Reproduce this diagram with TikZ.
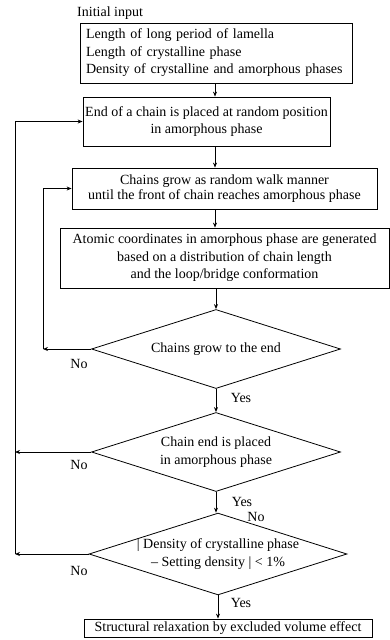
\documentclass[tikz,border=0pt]{standalone}
\usepackage{fontspec}
\setmainfont{Liberation Serif}
\usetikzlibrary{shapes.geometric,arrows.meta}
\begin{document}
\begin{tikzpicture}[x=1pt,y=-1pt,
 every node/.style={font=\fontsize{14}{17.5}\selectfont},
 box/.style={draw,line width=0.8pt,inner sep=0pt,align=center},
 dia/.style={draw,diamond,shape aspect=3.15,line width=0.8pt,inner sep=0pt,align=center,minimum width=249pt,minimum height=79pt},
 arr/.style={-{Stealth[length=5pt,width=4pt]},line width=0.8pt},
 lbl/.style={inner sep=0pt}]
\useasboundingbox (0,0) rectangle (390,640);
\node[lbl,anchor=west] (init) at (77,13) {Initial input};
\node[box,minimum width=272pt,minimum height=60pt,text width=260pt,align=left] (b1) at (216,53) {Length of long period of lamella\\Length of crystalline phase\\Density of crystalline and amorphous phases};
\node[box,minimum width=247pt,minimum height=49pt] (b2) at (206.5,121.5) {End of a chain is placed at random position\\in amorphous phase};
\node[box,minimum width=305pt,minimum height=41pt,font=\fontsize{14}{15.5}\selectfont] (b3) at (224.5,188.5) {Chains grow as random walk manner\\until the front of chain reaches amorphous phase};
\node[box,minimum width=329pt,minimum height=60pt] (b4) at (224.5,258) {Atomic coordinates in amorphous phase are generated\\based on a distribution of chain length\\and the loop/bridge conformation};
\node[dia] (d1) at (216,349) {Chains grow to the end};
\node[dia] (d2) at (216,452) {Chain end is placed\\in amorphous phase};
\node[dia,minimum width=250pt] (d3) at (218,554) {| Density of crystalline phase\\– Setting density | < 1\%};
\node[box,minimum width=288pt,minimum height=18pt] (b5) at (228,628) {Structural relaxation by excluded volume effect};
\coordinate (cx) at (215,0);
\coordinate (xo) at (15,0);
\coordinate (xi) at (43,0);
\draw[arr] (b1.south -| cx) -- (b2.north -| cx);
\draw[arr] (b2.south -| cx) -- (b3.north -| cx);
\draw[arr] (b3.south -| cx) -- (b4.north -| cx);
\draw[arr] (b4.south -| d1.north) -- (d1.north);
\draw[arr] (d1.south) -- (d2.north);
\draw[arr] (d2.south) -- (d2.south |- d3.north);
\draw[arr] (d3.south) -- (d3.south |- b5.north);
\draw[arr] (d1.west) -- (d1.west -| xi);
\draw[arr] (d1.west -| xi) -- (b3.west -| xi) -- (b3.west);
\draw[arr] (d2.west) -- (d2.west -| xo);
\draw[arr] (d3.west) -- (d3.west -| xo);
\draw[arr] (d3.west -| xo) -- (b2.west -| xo) -- (b2.west);
\node[lbl] (no1) at (79,364) {No};
\node[lbl] (no2) at (79,465) {No};
\node[lbl] (no3) at (79,571) {No};
\node[lbl] (no4) at (256,517) {No};
\node[lbl] (yes1) at (241,398) {Yes};
\node[lbl] (yes2) at (242,502) {Yes};
\node[lbl] (yes3) at (241,603) {Yes};
\end{tikzpicture}
\end{document}
